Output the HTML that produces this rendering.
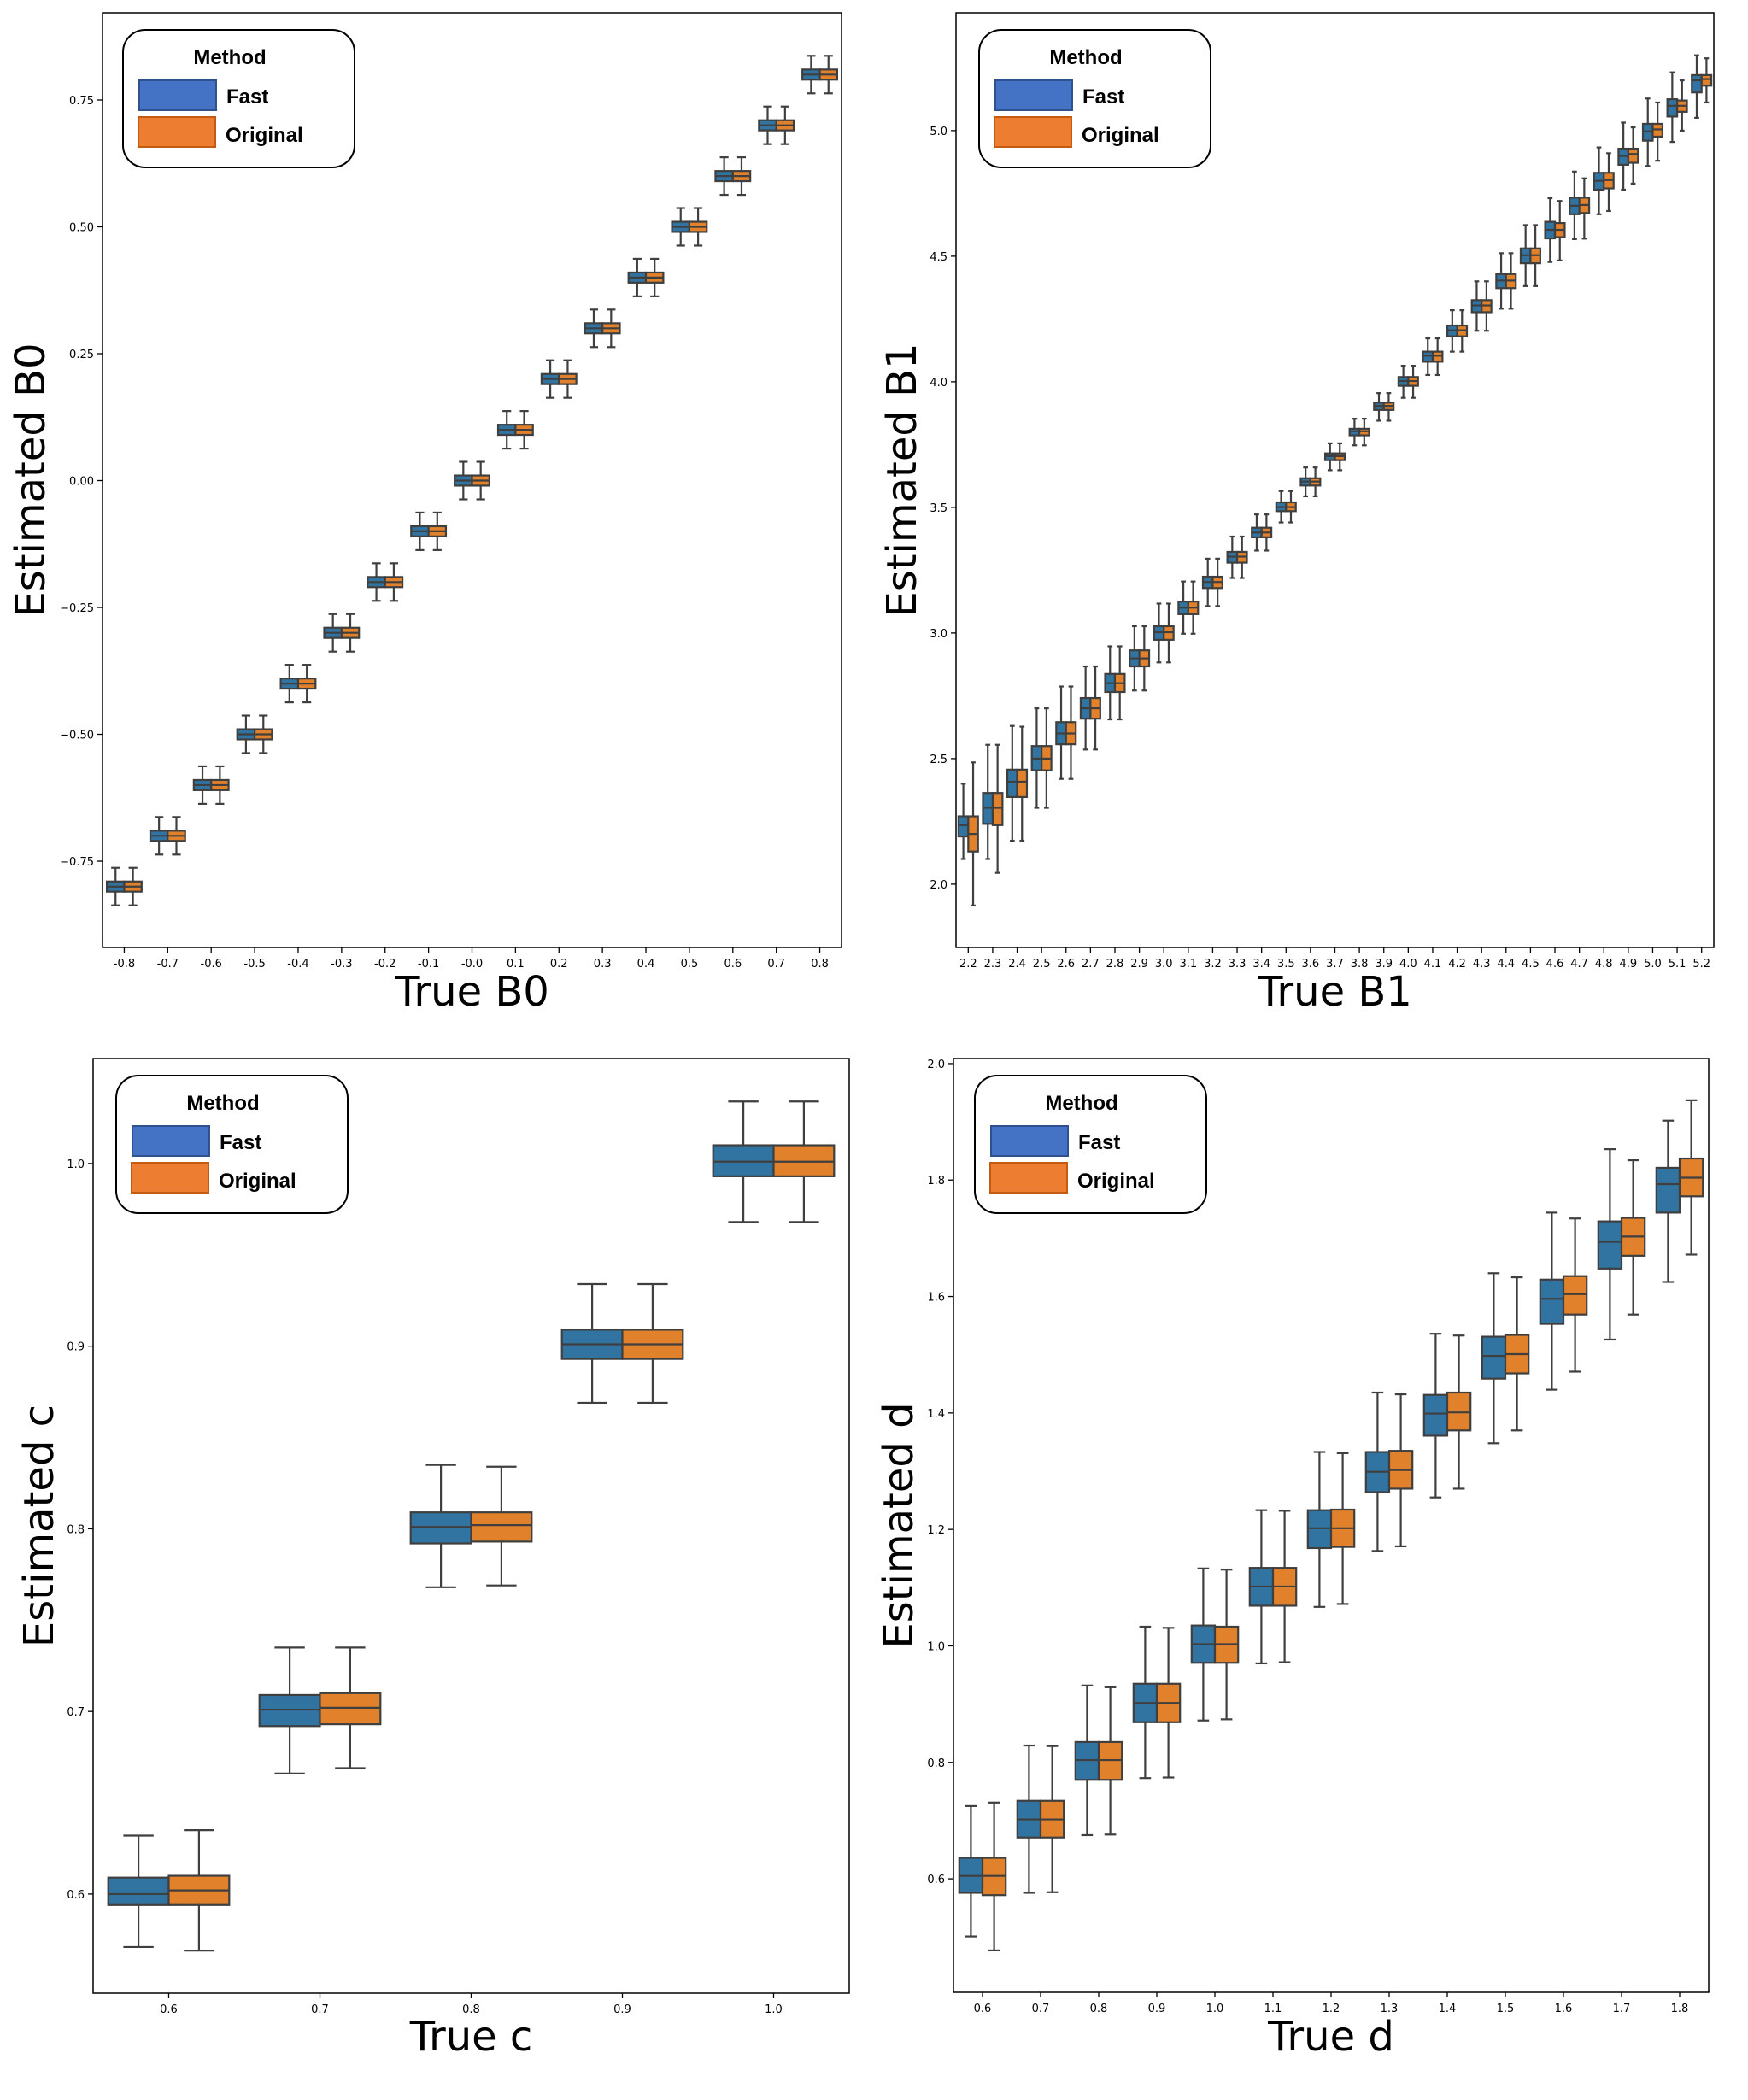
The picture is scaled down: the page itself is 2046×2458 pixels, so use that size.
<!DOCTYPE html>
<html><head><meta charset="utf-8"><style>
body{margin:0;background:#fff;}
svg{display:block;font-family:"DejaVu Sans","Liberation Sans",sans-serif;}
.leg{font-family:"Liberation Sans",sans-serif;font-weight:bold;}
</style></head><body>
<svg id="chart" width="2046" height="2458" viewBox="0 0 2046 2458" xmlns="http://www.w3.org/2000/svg"></svg>
<script>
// ---- Panel data ----
const b0Cats = ["-0.8","-0.7","-0.6","-0.5","-0.4","-0.3","-0.2","-0.1","-0.0","0.1","0.2","0.3","0.4","0.5","0.6","0.7","0.8"];
const b0Med = [-0.8,-0.7,-0.6,-0.5,-0.4,-0.3,-0.2,-0.1,0.0,0.1,0.2,0.3,0.4,0.5,0.6,0.7,0.8];
const b0Ticks = [-0.75,-0.5,-0.25,0,0.25,0.5,0.75];
const b0TickLabels = ["\u22120.75","\u22120.50","\u22120.25","0.00","0.25","0.50","0.75"];

const b1Cats = ["2.2","2.3","2.4","2.5","2.6","2.7","2.8","2.9","3.0","3.1","3.2","3.3","3.4","3.5","3.6","3.7","3.8","3.9","4.0","4.1","4.2","4.3","4.4","4.5","4.6","4.7","4.8","4.9","5.0","5.1","5.2"];
const b1FastHi = [2.40,2.555,2.63,2.70,2.787,2.867,2.947,3.027,3.117,3.205,3.296,3.384,3.472,3.565,3.659,3.755,3.853,3.955,4.064,4.173,4.285,4.40,4.512,4.624,4.731,4.837,4.933,5.032,5.128,5.232,5.30];
const b1FastQ3 = [2.27,2.363,2.456,2.55,2.645,2.741,2.837,2.931,3.027,3.125,3.224,3.323,3.419,3.52,3.616,3.715,3.813,3.917,4.019,4.12,4.224,4.325,4.429,4.531,4.637,4.733,4.832,4.928,5.027,5.125,5.221];
const b1FastMed = [2.235,2.304,2.408,2.50,2.60,2.70,2.80,2.899,3.003,3.101,3.203,3.304,3.40,3.501,3.603,3.704,3.803,3.904,4.003,4.104,4.205,4.304,4.403,4.504,4.605,4.701,4.80,4.899,4.997,5.099,5.20];
const b1FastQ1 = [2.19,2.24,2.347,2.453,2.557,2.659,2.765,2.867,2.973,3.075,3.179,3.28,3.381,3.485,3.587,3.688,3.787,3.888,3.984,4.08,4.181,4.277,4.373,4.472,4.571,4.667,4.765,4.864,4.96,5.056,5.152];
const b1FastLo = [2.10,2.10,2.173,2.304,2.419,2.536,2.656,2.771,2.883,2.997,3.107,3.219,3.328,3.44,3.544,3.648,3.747,3.845,3.936,4.027,4.12,4.203,4.291,4.381,4.477,4.568,4.667,4.765,4.859,4.955,5.051];
const b1OrigHi = [2.485,2.555,2.627,2.70,2.787,2.867,2.947,3.027,3.117,3.205,3.296,3.384,3.472,3.565,3.659,3.755,3.853,3.955,4.064,4.173,4.285,4.40,4.512,4.624,4.72,4.81,4.91,5.013,5.112,5.20,5.288];
const b1OrigQ3 = [2.27,2.363,2.456,2.55,2.645,2.741,2.837,2.931,3.027,3.125,3.224,3.323,3.419,3.52,3.616,3.715,3.813,3.917,4.019,4.12,4.224,4.325,4.429,4.531,4.632,4.733,4.832,4.928,5.027,5.12,5.221];
const b1OrigMed = [2.20,2.304,2.408,2.50,2.60,2.70,2.80,2.899,3.003,3.101,3.203,3.304,3.40,3.501,3.603,3.704,3.803,3.904,4.003,4.104,4.205,4.304,4.403,4.504,4.605,4.704,4.803,4.907,5.005,5.099,5.205];
const b1OrigQ1 = [2.13,2.235,2.347,2.453,2.557,2.659,2.765,2.867,2.973,3.075,3.179,3.28,3.381,3.485,3.587,3.688,3.787,3.888,3.984,4.08,4.181,4.277,4.373,4.472,4.576,4.672,4.77,4.872,4.976,5.075,5.179];
const b1OrigLo = [1.915,2.045,2.173,2.304,2.419,2.536,2.656,2.771,2.883,2.997,3.107,3.219,3.328,3.44,3.544,3.648,3.747,3.845,3.936,4.027,4.12,4.203,4.291,4.381,4.483,4.57,4.68,4.789,4.88,5.0,5.112];
const b1Ticks = [2.0,2.5,3.0,3.5,4.0,4.5,5.0];
const b1TickLabels = ["2.0","2.5","3.0","3.5","4.0","4.5","5.0"];

const cCats = ["0.6","0.7","0.8","0.9","1.0"];
const cFastHi = [0.632,0.735,0.835,0.934,1.034];
const cFastQ3 = [0.609,0.709,0.809,0.909,1.010];
const cFastMed = [0.600,0.701,0.801,0.901,1.001];
const cFastQ1 = [0.594,0.692,0.792,0.893,0.993];
const cFastLo = [0.571,0.666,0.768,0.869,0.968];
const cOrigHi = [0.635,0.735,0.834,0.934,1.034];
const cOrigQ3 = [0.610,0.710,0.809,0.909,1.010];
const cOrigMed = [0.602,0.702,0.802,0.901,1.001];
const cOrigQ1 = [0.594,0.693,0.793,0.893,0.993];
const cOrigLo = [0.569,0.669,0.769,0.869,0.968];
const cTicks = [0.6,0.7,0.8,0.9,1.0];
const cTickLabels = ["0.6","0.7","0.8","0.9","1.0"];

const dCats = ["0.6","0.7","0.8","0.9","1.0","1.1","1.2","1.3","1.4","1.5","1.6","1.7","1.8"];
const dFastHi = [0.725,0.829,0.932,1.033,1.133,1.233,1.333,1.435,1.536,1.640,1.744,1.853,1.902];
const dFastQ3 = [0.636,0.734,0.835,0.935,1.035,1.134,1.233,1.333,1.431,1.531,1.629,1.729,1.821];
const dFastMed = [0.605,0.702,0.804,0.902,1.003,1.102,1.202,1.299,1.399,1.498,1.596,1.694,1.793];
const dFastQ1 = [0.576,0.671,0.770,0.869,0.971,1.069,1.168,1.264,1.361,1.459,1.553,1.648,1.744];
const dFastLo = [0.501,0.576,0.675,0.773,0.872,0.970,1.067,1.163,1.255,1.348,1.440,1.526,1.625];
const dOrigHi = [0.731,0.828,0.929,1.031,1.131,1.232,1.331,1.432,1.533,1.633,1.734,1.834,1.937];
const dOrigQ3 = [0.636,0.734,0.835,0.935,1.033,1.134,1.234,1.335,1.435,1.534,1.635,1.735,1.837];
const dOrigMed = [0.605,0.702,0.804,0.902,1.003,1.102,1.202,1.302,1.401,1.501,1.604,1.703,1.804];
const dOrigQ1 = [0.572,0.671,0.770,0.869,0.971,1.069,1.170,1.270,1.370,1.468,1.569,1.670,1.772];
const dOrigLo = [0.477,0.577,0.676,0.774,0.874,0.972,1.072,1.171,1.270,1.370,1.471,1.569,1.672];
const dTicks = [0.6,0.8,1.0,1.2,1.4,1.6,1.8,2.0];
const dTickLabels = ["0.6","0.8","1.0","1.2","1.4","1.6","1.8","2.0"];

const NS = "http://www.w3.org/2000/svg";
const svg = document.getElementById("chart");
function mk(tag, attrs, parent, text){
  const e = document.createElementNS(NS, tag);
  for (const k in attrs) e.setAttribute(k, attrs[k]);
  if (text !== undefined) e.textContent = text;
  (parent||svg).appendChild(e);
  return e;
}
const FAST_C = "#3274A1", ORIG_C = "#E1812C", EDGE = "#3f3f3f";

function panel(p){
  const g = mk("g", {});
  
  
  const L=p.left,R=p.right,T=p.top,B=p.bottom;
  const yScale = v => B - (v - p.ymin)/(p.ymax - p.ymin)*(B-T);
  const band = (R-L)/p.cats.length;
  const xCenter = i => L + band*(i+0.5);
  const fr = mk("rect",{x:L,y:T,width:R-L,height:B-T,fill:"none",stroke:"#000","stroke-width":1.5},g);
  
  
  p.yTicks.forEach((v,i)=>{
    const y=yScale(v);
    const t=mk("line",{x1:L-6,x2:L,y1:y,y2:y,stroke:"#000","stroke-width":1.3},g);
    
    
    const tl=mk("text",{x:L-10,y:y+5,"text-anchor":"end","font-size":13,fill:"#000"},g,p.yTickLabels[i]);
    
    
  });
  p.cats.forEach((c,i)=>{
    const x=xCenter(i);
    const t=mk("line",{x1:x,x2:x,y1:B,y2:B+6,stroke:"#000","stroke-width":1.3},g);
    
    
    const tl=mk("text",{x:x,y:B+23,"text-anchor":"middle","font-size":13,fill:"#000"},g,c);
    
    
  });
  const bw = band*0.4;
  const series=[{c:FAST_C,d:p.fast,off:-1,n:"fast"},{c:ORIG_C,d:p.orig,off:0,n:"original"}];
  series.forEach(s=>{
    p.cats.forEach((c,i)=>{
      const x0 = xCenter(i) + s.off*bw;
      const xc = x0 + bw/2;
      const bg = mk("g",{},g);
      
      
      const lo=yScale(s.d.lo[i]),q1=yScale(s.d.q1[i]),md=yScale(s.d.med[i]),q3=yScale(s.d.q3[i]),hi=yScale(s.d.hi[i]);
      const sw=2.2;
      mk("line",{x1:xc,x2:xc,y1:hi,y2:q3,stroke:EDGE,"stroke-width":sw},bg);
      mk("line",{x1:xc,x2:xc,y1:q1,y2:lo,stroke:EDGE,"stroke-width":sw},bg);
      mk("line",{x1:xc-bw/4,x2:xc+bw/4,y1:hi,y2:hi,stroke:EDGE,"stroke-width":sw},bg);
      mk("line",{x1:xc-bw/4,x2:xc+bw/4,y1:lo,y2:lo,stroke:EDGE,"stroke-width":sw},bg);
      mk("rect",{x:x0,y:q3,width:bw,height:Math.max(q1-q3,0.5),fill:s.c,stroke:EDGE,"stroke-width":sw},bg);
      mk("line",{x1:x0,x2:x0+bw,y1:md,y2:md,stroke:EDGE,"stroke-width":sw},bg);
    });
  });
  const xl=mk("text",{x:(L+R)/2,y:p.xLabelY,"text-anchor":"middle","font-size":48,fill:"#000"},g,p.xLabel);
  
  
  const cy=(T+B)/2;
  const yl=mk("text",{x:p.yLabelX,y:cy,"text-anchor":"middle","font-size":48,fill:"#000",transform:`rotate(-90 ${p.yLabelX} ${cy})`,"dominant-baseline":"central"},g,p.yLabel);
  
  
  const lx=p.legX, ly=p.legY;
  const lg=mk("g",{},g);
  
  
  mk("rect",{x:lx,y:ly,width:271,height:161,rx:26,ry:26,fill:"#fff",stroke:"#000","stroke-width":2},lg);
  const tt=mk("text",{x:lx+125,y:ly+40,"text-anchor":"middle","font-size":24,class:"leg",fill:"#000"},lg,"Method");
  
  
  const e1=mk("g",{},lg);
  
  
  mk("rect",{x:lx+19,y:ly+59,width:90,height:35,fill:"#4472C4",stroke:"#2F528F","stroke-width":2},e1);
  mk("text",{x:lx+121,y:ly+86,"font-size":24,class:"leg",fill:"#000"},e1,"Fast");
  const e2=mk("g",{},lg);
  
  
  mk("rect",{x:lx+18,y:ly+102,width:90,height:35,fill:"#ED7D31",stroke:"#C55A11","stroke-width":2},e2);
  mk("text",{x:lx+120,y:ly+131,"font-size":24,class:"leg",fill:"#000"},e2,"Original");
}

panel({name:"panel-b0",left:120,right:985,top:15,bottom:1109,ymin:-0.920,ymax:0.9217,
  cats:b0Cats,yTicks:b0Ticks,yTickLabels:b0TickLabels,
  fast:{hi:b0Med.map(v=>v+0.037),q3:b0Med.map(v=>v+0.01),med:b0Med,q1:b0Med.map(v=>v-0.01),lo:b0Med.map(v=>v-0.037)},
  orig:{hi:b0Med.map(v=>v+0.037),q3:b0Med.map(v=>v+0.01),med:b0Med,q1:b0Med.map(v=>v-0.01),lo:b0Med.map(v=>v-0.037)},
  xLabel:"True B0",yLabel:"Estimated B0",xLabelY:1177,yLabelX:36,legX:144,legY:35});
panel({name:"panel-b1",left:1119,right:2006,top:15,bottom:1109,ymin:1.748,ymax:5.469,
  cats:b1Cats,yTicks:b1Ticks,yTickLabels:b1TickLabels,
  fast:{hi:b1FastHi,q3:b1FastQ3,med:b1FastMed,q1:b1FastQ1,lo:b1FastLo},
  orig:{hi:b1OrigHi,q3:b1OrigQ3,med:b1OrigMed,q1:b1OrigQ1,lo:b1OrigLo},
  xLabel:"True B1",yLabel:"Estimated B1",xLabelY:1177,yLabelX:1056,legX:1146,legY:35});
panel({name:"panel-c",left:109,right:994,top:1239,bottom:2333,ymin:0.5457,ymax:1.0575,
  cats:cCats,yTicks:cTicks,yTickLabels:cTickLabels,
  fast:{hi:cFastHi,q3:cFastQ3,med:cFastMed,q1:cFastQ1,lo:cFastLo},
  orig:{hi:cOrigHi,q3:cOrigQ3,med:cOrigMed,q1:cOrigQ1,lo:cOrigLo},
  xLabel:"True c",yLabel:"Estimated c",xLabelY:2400,yLabelX:46,legX:136,legY:1259});
panel({name:"panel-d",left:1116,right:2000,top:1239,bottom:2332,ymin:0.405,ymax:2.0087,
  cats:dCats,yTicks:dTicks,yTickLabels:dTickLabels,
  fast:{hi:dFastHi,q3:dFastQ3,med:dFastMed,q1:dFastQ1,lo:dFastLo},
  orig:{hi:dOrigHi,q3:dOrigQ3,med:dOrigMed,q1:dOrigQ1,lo:dOrigLo},
  xLabel:"True d",yLabel:"Estimated d",xLabelY:2400,yLabelX:1052,legX:1141,legY:1259});
</script>
</body></html>
